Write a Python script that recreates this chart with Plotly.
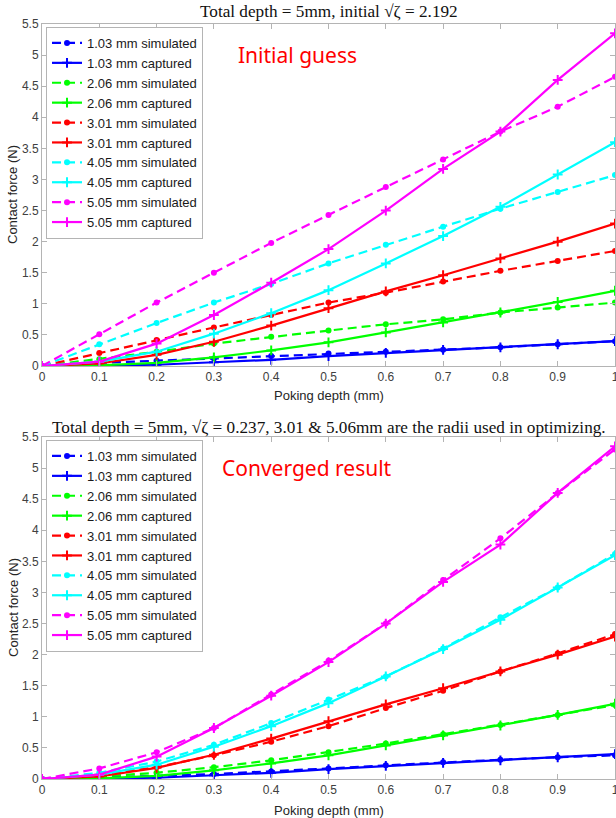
import plotly.graph_objects as go

# Poking depth (mm)
depth = [0, 0.1, 0.2, 0.3, 0.4, 0.5, 0.6, 0.7, 0.8, 0.9, 1.0]

radii = ["1.03", "2.06", "3.01", "4.05", "5.05"]
colors = ["#0000ff", "#00ff00", "#ff0000", "#00ffff", "#ff00ff"]

# Measured contact force (N) per indenter radius
captured_103 = [0, 0.005, 0.02, 0.06, 0.10, 0.16, 0.21, 0.26, 0.30, 0.35, 0.40]
captured_206 = [0, 0.01, 0.05, 0.14, 0.25, 0.38, 0.54, 0.70, 0.86, 1.03, 1.21]
captured_301 = [0, 0.04, 0.18, 0.39, 0.65, 0.93, 1.20, 1.46, 1.73, 2.00, 2.29]
captured_405 = [0, 0.07, 0.23, 0.52, 0.85, 1.22, 1.65, 2.09, 2.56, 3.08, 3.60]
captured_505 = [0, 0.07, 0.36, 0.82, 1.34, 1.88, 2.50, 3.17, 3.77, 4.60, 5.35]

# Simulated force with the initial parameter guess
initial_103 = [0, 0.05, 0.085, 0.12, 0.16, 0.20, 0.23, 0.26, 0.30, 0.35, 0.40]
initial_206 = [0, 0.11, 0.23, 0.36, 0.47, 0.57, 0.67, 0.75, 0.86, 0.94, 1.02]
initial_301 = [0, 0.21, 0.42, 0.62, 0.82, 1.02, 1.18, 1.36, 1.53, 1.69, 1.85]
initial_405 = [0, 0.35, 0.69, 1.02, 1.32, 1.65, 1.95, 2.24, 2.53, 2.80, 3.07]
initial_505 = [0, 0.51, 1.02, 1.50, 1.98, 2.43, 2.88, 3.32, 3.77, 4.17, 4.65]

# Simulated force after optimisation converged
converged_103 = [0, 0.02, 0.05, 0.08, 0.12, 0.17, 0.22, 0.27, 0.31, 0.35, 0.38]
converged_206 = [0, 0.04, 0.10, 0.19, 0.30, 0.43, 0.57, 0.72, 0.87, 1.03, 1.19]
converged_301 = [0, 0.07, 0.19, 0.38, 0.60, 0.85, 1.14, 1.42, 1.73, 2.02, 2.33]
converged_405 = [0, 0.10, 0.28, 0.55, 0.90, 1.28, 1.65, 2.10, 2.60, 3.08, 3.62]
converged_505 = [0, 0.17, 0.43, 0.82, 1.36, 1.90, 2.50, 3.20, 3.87, 4.60, 5.30]

captured = [captured_103, captured_206, captured_301, captured_405, captured_505]
initial = [initial_103, initial_206, initial_301, initial_405, initial_505]
converged = [converged_103, converged_206, converged_301, converged_405, converged_505]

x_ticks = [0, 0.1, 0.2, 0.3, 0.4, 0.5, 0.6, 0.7, 0.8, 0.9, 1.0]
x_ticktext = ["0", "0.1", "0.2", "0.3", "0.4", "0.5", "0.6", "0.7", "0.8", "0.9", "1"]
y_ticks = [0, 0.5, 1, 1.5, 2, 2.5, 3, 3.5, 4, 4.5, 5, 5.5]
y_ticktext = ["0", "0.5", "1", "1.5", "2", "2.5", "3", "3.5", "4", "4.5", "5", "5.5"]

W, H = 616, 818
AX_COLOR = "#b4b4b4"
TICK_FONT = dict(family="Liberation Sans, Arial", size=12, color="#404040")

fig = go.Figure()


def add_panel(sim_sets, xa, ya, legend):
    for r, c, sim, cap in zip(radii, colors, sim_sets, captured):
        fig.add_trace(go.Scatter(
            x=depth, y=sim, xaxis=xa, yaxis=ya, legend=legend,
            mode="lines+markers", name=f"{r} mm simulated",
            line=dict(color=c, width=2.2, dash="9px,5px"),
            marker=dict(symbol="circle", size=6, color=c),
        ))
        fig.add_trace(go.Scatter(
            x=depth, y=cap, xaxis=xa, yaxis=ya, legend=legend,
            mode="lines+markers", name=f"{r} mm captured",
            line=dict(color=c, width=2.2),
            marker=dict(symbol="cross-thin-open", size=7, color=c,
                        line=dict(color=c, width=2)),
        ))


add_panel(initial, "x", "y", "legend")
add_panel(converged, "x2", "y2", "legend2")


def py(px):
    return 1 - px / H


def xaxis_cfg(anchor):
    return dict(
        domain=[0, 1], range=[0, 1], anchor=anchor,
        tickvals=x_ticks, ticktext=x_ticktext, tickfont=TICK_FONT,
        ticks="inside", ticklen=5, tickcolor=AX_COLOR,
        showline=True, linecolor=AX_COLOR, linewidth=1, mirror="ticks",
        showgrid=False, zeroline=False, automargin=False,
        ticklabeloverflow="allow",
    )


def yaxis_cfg(anchor, top_px, bottom_px):
    return dict(
        domain=[py(bottom_px), py(top_px)], range=[0, 5.5], anchor=anchor,
        tickvals=y_ticks, ticktext=y_ticktext, tickfont=TICK_FONT,
        ticks="inside", ticklen=5, tickcolor=AX_COLOR,
        showline=True, linecolor=AX_COLOR, linewidth=1, mirror="ticks",
        showgrid=False, zeroline=False, automargin=False,
        ticklabeloverflow="allow",
    )


legend_style = dict(
    font=dict(family="Liberation Sans, Arial", size=13, color="#1a1a1a"),
    bgcolor="white", bordercolor=AX_COLOR, borderwidth=1,
    xanchor="left", yanchor="top", tracegroupgap=0, itemwidth=30,
    traceorder="normal",
)

fig.update_layout(
    width=W, height=H,
    margin=dict(l=42, r=1, t=0, b=0),
    paper_bgcolor="white", plot_bgcolor="white",
    xaxis=xaxis_cfg("y"),
    yaxis=yaxis_cfg("x", 24, 366),
    xaxis2=xaxis_cfg("y2"),
    yaxis2=yaxis_cfg("x2", 437, 779),
    legend=dict(x=0.007, y=py(27), **legend_style),
    legend2=dict(x=0.007, y=py(440), **legend_style),
    showlegend=True,
)

label_font = dict(family="Liberation Sans, Arial", size=13, color="#262626")
title_font = dict(family="Liberation Serif, DejaVu Serif, serif", size=17.2, color="#111111")
note_font = dict(family="Noto Sans, Open Sans, sans-serif", size=21, color="#ff0000")

annotations = [
    dict(text="Total depth = 5mm, initial \u221a\u03b6 = 2.192", x=0.5, y=py(11),
         font=title_font),
    dict(text="Total depth = 5mm, \u221a\u03b6 = 0.237, 3.01 &amp; 5.06mm are the radii used in optimizing.",
         x=0.5, y=py(427), font=title_font),
    dict(text="Poking depth (mm)", x=0.5, y=py(395), font=label_font),
    dict(text="Poking depth (mm)", x=0.5, y=py(810), font=label_font),
    dict(text="Contact force (N)", x=-29 / 573, y=py(195), textangle=-90, font=label_font),
    dict(text="Contact force (N)", x=-29 / 573, y=py(608), textangle=-90, font=label_font),
    dict(text="Initial guess", x=(297 - 42) / 573, y=py(55), font=note_font),
    dict(text="Converged result", x=(307 - 42) / 573, y=py(468), font=note_font),
]
for a in annotations:
    fig.add_annotation(xref="paper", yref="paper", showarrow=False,
                       xanchor="center", yanchor="middle", **a)

fig.write_html("out.html")
